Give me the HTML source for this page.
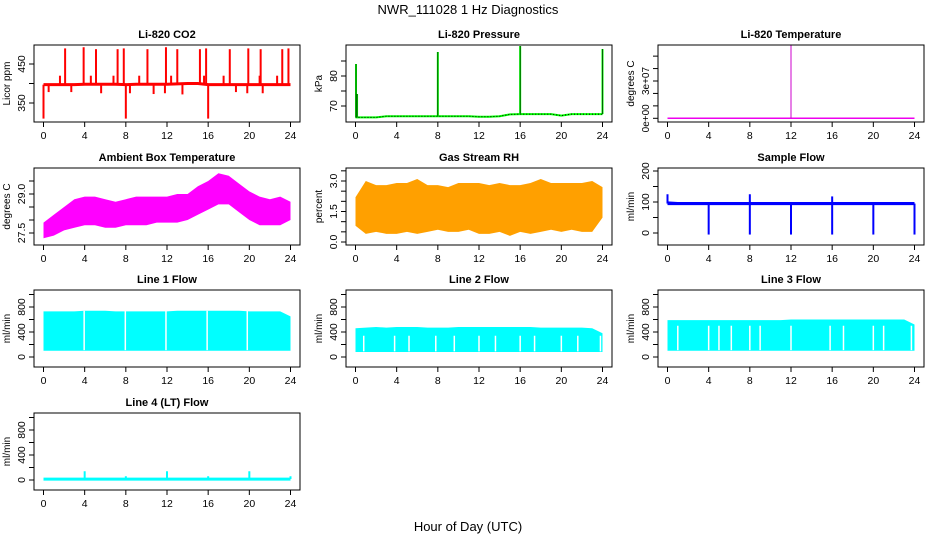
<!DOCTYPE html>
<html><head><meta charset="utf-8"><style>
body{margin:0;background:#fff}
svg{display:block;font-family:"Liberation Sans",Arial,sans-serif}
</style></head><body>
<svg id="chart" width="936" height="540" viewBox="0 0 936 540">
<text x="468" y="14" text-anchor="middle" font-size="13">NWR_111028  1 Hz Diagnostics</text>
<text x="468" y="531" text-anchor="middle" font-size="13">Hour of Day (UTC)</text>
<g id="panels"></g>
</svg>
<script>
// ---- data arrays ----
const hours = [0,1,2,3,4,5,6,7,8,9,10,11,12,13,14,15,16,17,18,19,20,21,22,23,24];
const xTicks = [0,4,8,12,16,20,24];
// CO2
const co2Base = [397,397,397,397,398,398,398,398,397,398,398,398,398,399,400,400,397,397,397,397,397,397,397,397,397];
const co2SpikeHours = [2.1,3.9,5.1,7.2,7.8,10.1,11.9,13.0,15.2,15.8,18.1,19.9,21.1,23.2,23.8,1.6,4.6,6.8,9.3,12.4,15.6,17.5,21.0,22.7,0.5,2.7,5.6,8.4,10.7,11.8,13.5,18.7,19.8,21.3,0.0,8.0,16.0];
const co2SpikeVals = [490,493,488,488,490,488,493,488,488,490,488,490,488,488,490,420,420,420,420,420,420,420,420,420,378,378,375,375,373,375,372,378,375,375,310,310,310];
// Pressure
const presBase = [66.2,66.2,66.2,66.6,66.6,66.6,66.6,66.6,66.6,66.6,66.6,66.6,66.4,66.4,66.6,67.2,67.3,67.3,67.3,67.3,66.8,67.3,67.3,67.3,67.3];
const presSpikeHours = [0.05,0.15,8,16,24];
const presSpikeVals = [84,74,88,90,89];
// Li-820 temperature
const ltBase = [0,0,0,0,0,0,0,0,0,0,0,0,0,0,0,0,0,0,0,0,0,0,0,0,0];
const ltSpikeHours = [12];
const ltSpikeVals = [60000000];
// Ambient temperature
const ambLo = [27.3,27.4,27.6,27.7,27.8,27.8,27.7,27.7,27.8,27.8,27.8,27.9,27.9,27.9,28.0,28.2,28.4,28.6,28.6,28.3,28.0,27.8,27.8,27.8,28.0];
const ambHi = [27.9,28.2,28.5,28.8,28.9,28.9,28.8,28.7,28.8,28.9,28.9,28.9,28.9,29.0,29.0,29.3,29.5,29.8,29.7,29.4,29.1,28.9,28.8,28.9,28.7];
// Gas stream RH
const rhLo = [0.8,0.4,0.5,0.4,0.4,0.5,0.4,0.5,0.6,0.5,0.5,0.6,0.4,0.4,0.5,0.3,0.5,0.4,0.5,0.6,0.5,0.6,0.5,0.5,1.2];
const rhHi = [2.2,3.0,2.8,2.8,2.9,2.9,3.1,2.8,2.8,2.7,2.9,2.9,2.9,2.8,2.9,2.8,2.8,2.9,3.1,2.9,2.9,2.9,2.9,3.0,2.7];
// Sample flow
const sfLo = [90,90,90,90,90,90,90,90,90,90,90,90,90,90,90,90,90,90,90,90,90,90,90,90,90];
const sfHi = [102,100,100,100,100,100,100,100,100,100,100,100,100,100,100,100,100,100,100,100,100,100,100,100,100];
const sfSpikeHours = [0,8,16,4,8,12,16,20,24];
const sfSpikeVals = [125,125,118,-5,-5,-5,-5,-5,-5];
// Line flows
const l1Lo = [100,100,100,100,100,100,100,100,100,100,100,100,100,100,100,100,100,100,100,100,100,100,100,100,100];
const l1Hi = [730,730,730,730,740,740,740,730,730,730,730,730,730,740,740,740,740,740,740,740,730,730,730,730,650];
const l1Gaps = [3.95,7.95,11.9,15.9,19.8];
const l2Lo = [80,80,80,80,80,80,80,80,80,80,80,80,80,80,80,80,80,80,80,80,80,80,80,80,80];
const l2Hi = [460,470,480,470,480,480,480,470,470,470,480,480,480,480,480,480,480,480,470,470,470,470,470,460,380];
const l2Gaps = [0.8,3.8,5.2,7.8,9.6,12.0,13.6,16.0,17.4,20.0,21.6,23.8];
const l3Lo = [100,100,100,100,100,100,100,100,100,100,100,100,100,100,100,100,100,100,100,100,100,100,100,100,100];
const l3Hi = [590,590,590,590,590,590,590,590,590,590,590,590,600,600,600,600,600,600,600,600,600,600,600,600,520];
const l3Gaps = [1.0,4.0,5.0,6.2,8.0,9.0,12.0,15.8,17.1,20.0,21.0,23.7];
const l4Base = [15,15,15,15,15,15,15,15,15,15,15,15,15,15,15,15,15,15,15,15,15,15,15,15,15];
const l4SpikeHours = [4,8,12,16,20,24];
const l4SpikeVals = [140,60,140,60,140,60];

// ---- drawing ----
const NS='http://www.w3.org/2000/svg';
const root=document.getElementById('panels');
function mk(tag,attrs,parent){const e=document.createElementNS(NS,tag);for(const k in attrs)e.setAttribute(k,attrs[k]);(parent||root).appendChild(e);return e;}
const colL=[34,346,658], rowT=[45,168,290,413], W=266, H=77;

function panel(o){
  const L=colL[o.c], T=rowT[o.r];
  const g=mk('g',{});
  
  
  const X=h=>L+9.5+h*247/24;
  const k=(o.yp[1]-o.yp[0])/(o.yv[1]-o.yv[0]);
  const Y=v=>T+o.yp[0]+(v-o.yv[0])*k;
  const clip='clip'+o.name;
  const cp=mk('clipPath',{id:clip},g);mk('rect',{x:L,y:T,width:W,height:H},cp);
  const pg=mk('g',{'clip-path':'url(#'+clip+')'},g);
  o.draw(pg,X,Y);
  const box=mk('rect',{x:L,y:T,width:W,height:H,fill:'none',stroke:'#000','stroke-width':1},g);
  
  
  const t=mk('text',{x:L+W/2,y:T-7,'text-anchor':'middle','font-size':11,'font-weight':'bold'},g);t.textContent=o.title;
  
  
  const xa=mk('g',{},g);
  
  
  xTicks.forEach(h=>{mk('line',{x1:X(h),x2:X(h),y1:T+H,y2:T+H+5,stroke:'#000'},xa);
    const tx=mk('text',{x:X(h),y:T+H+17,'text-anchor':'middle','font-size':10.5},xa);tx.textContent=h;});
  const ya=mk('g',{},g);
  
  
  o.ticks.forEach(v=>{mk('line',{x1:L-5,x2:L,y1:Y(v),y2:Y(v),stroke:'#000'},ya);});
  o.labels.forEach((s,i)=>{const v=o.labv[i];const tx=mk('text',{transform:`translate(${L-9},${Y(v)}) rotate(-90)`,'text-anchor':'middle','font-size':o.lfs||10.5},ya);tx.textContent=s;});
  const yl=mk('text',{transform:`translate(${L-24},${T+H/2}) rotate(-90)`,'text-anchor':'middle','font-size':10},g);yl.textContent=o.ylab;
  
  
}
function line(g,X,Y,arr,col,w){return mk('polyline',{points:hours.map((h,i)=>X(h)+','+Y(arr[i])).join(' '),fill:'none',stroke:col,'stroke-width':w},g);}
function band(g,X,Y,lo,hi,fill){const p=hours.map((h,i)=>X(h)+','+Y(hi[i])).concat(hours.slice().reverse().map((h,j)=>{const i=hours.length-1-j;return X(h)+','+Y(lo[i]);}));return mk('polygon',{points:p.join(' '),fill:fill},g);}
function spikes(g,X,Y,hs,vs,base,col,w){hs.forEach((h,i)=>{const s=mk('line',{x1:X(h),x2:X(h),y1:Y(base(h)),y2:Y(vs[i]),stroke:col,'stroke-width':w},g);});}
function interp(arr){return h=>{const i=Math.min(23,Math.floor(h));const f=h-i;return arr[i]*(1-f)+arr[i+1]*f;};}
function gaps(g,X,Y,hs,y0,y1){hs.forEach(h=>{const s=mk('line',{x1:X(h),x2:X(h),y1:Y(y0),y2:Y(y1),stroke:'#fff','stroke-width':1.5},g);});}

const flowTicks=[0,200,400,600,800,1000];
panel({name:'li820-co2-panel',c:0,r:0,title:'Li-820 CO2',ylab:'Licor ppm',yv:[350,450],yp:[58,19],ticks:[350,400,450],labels:['350','450'],labv:[350,450],
  draw:(g,X,Y)=>{line(g,X,Y,co2Base,'#f00',3);spikes(g,X,Y,co2SpikeHours,co2SpikeVals,interp(co2Base),'#f00',2);}});
panel({name:'li820-pressure-panel',c:1,r:0,title:'Li-820 Pressure',ylab:'kPa',yv:[70,80],yp:[61,31],ticks:[70,75,80,85],labels:['70','80'],labv:[70,80],
  draw:(g,X,Y)=>{line(g,X,Y,presBase,'#0f0',2);line(g,X,Y,presBase,'#000',1).setAttribute('stroke-dasharray','1 2');spikes(g,X,Y,presSpikeHours,presSpikeVals,interp(presBase),'#0f0',2);spikes(g,X,Y,presSpikeHours,presSpikeVals,interp(presBase),'#000',0.6);}});
panel({name:'li820-temperature-panel',c:2,r:0,title:'Li-820 Temperature',ylab:'degrees C',yv:[0,30000000],yp:[73.3,36],ticks:[0,1e7,2e7,3e7,4e7,5e7],labels:['0e+00','3e+07'],labv:[0,3e7],lfs:10,
  draw:(g,X,Y)=>{line(g,X,Y,ltBase,'#e0e',1.5);spikes(g,X,Y,ltSpikeHours,ltSpikeVals,()=>0,'#c0c',1);}});
panel({name:'ambient-temperature-panel',c:0,r:1,title:'Ambient Box Temperature',ylab:'degrees C',yv:[27.5,29],yp:[65,26],ticks:[27.5,28,28.5,29,29.5],labels:['27.5','29.0'],labv:[27.5,29],
  draw:(g,X,Y)=>{band(g,X,Y,ambLo,ambHi,'#f0f');}});
panel({name:'gas-stream-rh-panel',c:1,r:1,title:'Gas Stream RH',ylab:'percent',yv:[0,3],yp:[74,13],ticks:[0,0.5,1,1.5,2,2.5,3,3.5],labels:['0.0','1.5','3.0'],labv:[0,1.5,3],
  draw:(g,X,Y)=>{band(g,X,Y,rhLo,rhHi,'#ffa000');}});
panel({name:'sample-flow-panel',c:2,r:1,title:'Sample Flow',ylab:'ml/min',yv:[0,200],yp:[65,3],ticks:[0,50,100,150,200],labels:['0','100','200'],labv:[0,100,200],
  draw:(g,X,Y)=>{band(g,X,Y,sfLo,sfHi,'#00f');spikes(g,X,Y,sfSpikeHours,sfSpikeVals,()=>95,'#00f',2);}});
panel({name:'line1-flow-panel',c:0,r:2,title:'Line 1 Flow',ylab:'ml/min',yv:[0,800],yp:[67,17],ticks:flowTicks,labels:['0','400','800'],labv:[0,400,800],
  draw:(g,X,Y)=>{band(g,X,Y,l1Lo,l1Hi,'#0ff');gaps(g,X,Y,l1Gaps,110,740);}});
panel({name:'line2-flow-panel',c:1,r:2,title:'Line 2 Flow',ylab:'ml/min',yv:[0,800],yp:[67,17],ticks:flowTicks,labels:['0','400','800'],labv:[0,400,800],
  draw:(g,X,Y)=>{band(g,X,Y,l2Lo,l2Hi,'#0ff');gaps(g,X,Y,l2Gaps,90,340);}});
panel({name:'line3-flow-panel',c:2,r:2,title:'Line 3 Flow',ylab:'ml/min',yv:[0,800],yp:[67,17],ticks:flowTicks,labels:['0','400','800'],labv:[0,400,800],
  draw:(g,X,Y)=>{band(g,X,Y,l3Lo,l3Hi,'#0ff');gaps(g,X,Y,l3Gaps,110,500);}});
panel({name:'line4-flow-panel',c:0,r:3,title:'Line 4 (LT) Flow',ylab:'ml/min',yv:[0,800],yp:[67,17],ticks:flowTicks,labels:['0','400','800'],labv:[0,400,800],
  draw:(g,X,Y)=>{line(g,X,Y,l4Base,'#0ff',3);spikes(g,X,Y,l4SpikeHours,l4SpikeVals,()=>15,'#0ff',2);}});
</script>
</body></html>
